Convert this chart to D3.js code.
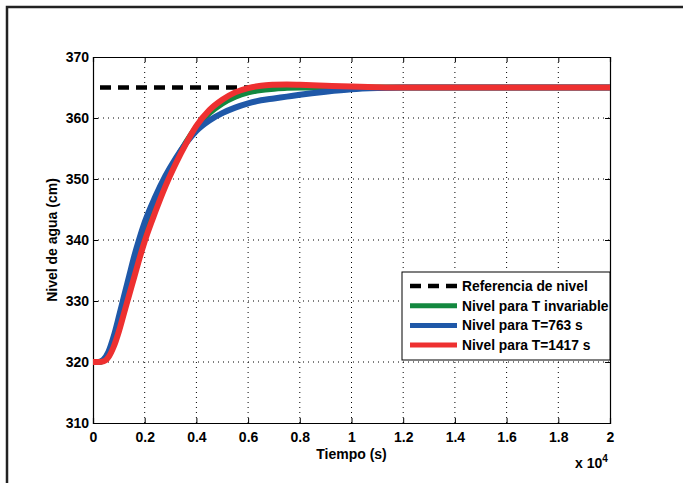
<!DOCTYPE html>
<html>
<head>
<meta charset="utf-8">
<script src="https://cdn.jsdelivr.net/npm/d3@7.9.0/dist/d3.min.js"></script>
<style>
  body { margin: 0; background: #fff; }
  svg { display: block; font-family: "Liberation Sans", Arial, sans-serif; font-weight: bold; }
</style>
</head>
<body>
<svg id="chart" width="683" height="483"></svg>
<script>
// Time samples (s)
const tiempo = [0, 200, 400, 600, 800, 1000, 1200, 1400, 1600, 1800, 2000, 2400, 2800, 3200, 3600, 4000, 4500, 5000, 5500, 6000, 6500, 7000, 7500, 8000, 9000, 10000, 11000, 12000, 14000, 16000, 18000, 20000];

// Level series (cm)
const nivelInvariable = [320, 320, 320.2, 321, 323, 325.8, 329, 332.2, 335.3, 338.2, 340.8, 345.5, 349.5, 353, 356, 358.5, 360.8, 362.4, 363.5, 364.2, 364.6, 364.8, 364.95, 365, 365, 365, 365, 365, 365, 365, 365, 365];
const nivelT763 = [320, 320, 320.4, 321.7, 324.2, 327.4, 330.8, 334.1, 337.4, 340.3, 342.9, 347, 350.5, 353.4, 355.9, 357.9, 359.6, 360.8, 361.7, 362.4, 362.9, 363.2, 363.5, 363.8, 364.3, 364.7, 364.9, 365, 365, 365, 365, 365];
const nivelT1417 = [320, 320, 320.1, 320.8, 322.5, 325, 328, 331, 334, 337, 339.8, 344.5, 348.8, 352.5, 355.8, 358.7, 361.3, 363, 364.2, 364.9, 365.3, 365.45, 365.5, 365.45, 365.3, 365.15, 365.05, 365, 365, 365, 365, 365];

const referencia = 365;
const xTicks = [0, 2000, 4000, 6000, 8000, 10000, 12000, 14000, 16000, 18000, 20000];
const yTicks = [310, 320, 330, 340, 350, 360, 370];

const leyenda = [
  { label: "Referencia de nivel", color: "#000000", dash: true },
  { label: "Nivel para T invariable", color: "#13883f" },
  { label: "Nivel para T=763 s", color: "#1f58a8" },
  { label: "Nivel para T=1417 s", color: "#ee3030" }
];

const svg = d3.select("#chart");

// outer frame
svg.append("path")
  .attr("d", "M7,483 V7 H683")
  .attr("fill", "none")
  .attr("stroke", "#222")
  .attr("stroke-width", 2.5);

const margin = { top: 57, left: 93, right: 73, bottom: 60 };
const width = 683 - margin.left - margin.right;
const height = 483 - margin.top - margin.bottom;

const g = svg.append("g").attr("transform", `translate(${margin.left},${margin.top})`);

const x = d3.scaleLinear().domain([0, 20000]).range([0, width]);
const y = d3.scaleLinear().domain([310, 370]).range([height, 0]);

// grid
g.append("g").selectAll("line")
  .data(xTicks.slice(1, -1))
  .join("line")
  .attr("x1", d => x(d)).attr("x2", d => x(d))
  .attr("y1", 0).attr("y2", height)
  .attr("stroke", "#000").attr("stroke-width", 1)
  .attr("stroke-dasharray", "1,4");

g.append("g").selectAll("line")
  .data(yTicks.slice(1, -1))
  .join("line")
  .attr("y1", d => y(d)).attr("y2", d => y(d))
  .attr("x1", 0).attr("x2", width)
  .attr("stroke", "#000").attr("stroke-width", 1)
  .attr("stroke-dasharray", "1,4");

// axes (ticks inward, MATLAB style)
const xAxis = g.append("g")
  .attr("transform", `translate(0,${height})`)
  .call(d3.axisBottom(x).tickValues(xTicks).tickSize(-5).tickPadding(9)
    .tickFormat(d => d3.format("")(+(d / 10000).toFixed(1))));
const xTop = g.append("g")
  .call(d3.axisTop(x).tickValues(xTicks).tickSize(-5).tickFormat(""));
const yAxis = g.append("g")
  .call(d3.axisLeft(y).tickValues(yTicks).tickSize(-5).tickPadding(4));
const yRight = g.append("g")
  .attr("transform", `translate(${width},0)`)
  .call(d3.axisRight(y).tickValues(yTicks).tickSize(-5).tickFormat(""));

[xAxis, xTop, yAxis, yRight].forEach(a => {
  a.selectAll("path").attr("stroke", "#000").attr("stroke-width", 1.2);
  a.selectAll("line").attr("stroke", "#000");
  a.selectAll("text")
    .attr("fill", "#000")
    .attr("font-size", "14px")
    .attr("font-weight", "bold")
    .attr("font-family", "Liberation Sans, Arial, sans-serif");
});

// series
const line = d3.line()
  .x((d, i) => x(tiempo[i]))
  .y(d => y(d))
  .curve(d3.curveMonotoneX);

g.append("line")
  .attr("x1", x(0)).attr("x2", x(20000))
  .attr("y1", y(referencia)).attr("y2", y(referencia))
  .attr("stroke", "#000")
  .attr("stroke-width", 4.5)
  .attr("stroke-dasharray", "11,7")
  .attr("stroke-dashoffset", 11);

const series = [nivelInvariable, nivelT763, nivelT1417];
series.forEach((s, i) => {
  g.append("path")
    .datum(s)
    .attr("d", line)
    .attr("fill", "none")
    .attr("stroke", leyenda[i + 1].color)
    .attr("stroke-width", 6)
    .attr("stroke-linejoin", "round");
});

// axis labels
svg.append("text")
  .attr("x", margin.left + width / 2)
  .attr("y", 459)
  .attr("text-anchor", "middle")
  .attr("font-size", "14px")
  .text("Tiempo (s)");

svg.append("text")
  .attr("transform", `translate(57,${margin.top + height / 2}) rotate(-90)`)
  .attr("text-anchor", "middle")
  .attr("font-size", "14px")
  .text("Nivel de agua (cm)");

const expo = svg.append("text")
  .attr("x", 575)
  .attr("y", 468)
  .attr("font-size", "14px");
expo.append("tspan").text("x 10");
expo.append("tspan").attr("dy", -6).attr("font-size", "10px").text("4");

// legend
const lg = g.append("g")
  .attr("transform", `translate(${x(0) + 309},${215})`);

lg.append("rect")
  .attr("x", 0).attr("y", 0)
  .attr("width", 208).attr("height", 88)
  .attr("fill", "#fff")
  .attr("stroke", "#000")
  .attr("stroke-width", 1);

const rows = lg.selectAll("g.row")
  .data(leyenda)
  .join("g")
  .attr("class", "row")
  .attr("transform", (d, i) => `translate(0,${14 + i * 19.7})`);

rows.append("line")
  .attr("x1", 8).attr("x2", 55)
  .attr("y1", 0).attr("y2", 0)
  .attr("stroke", d => d.color)
  .attr("stroke-width", d => d.dash ? 4.5 : 5)
  .attr("stroke-dasharray", d => d.dash ? "11,7" : null);

rows.append("text")
  .attr("x", 60)
  .attr("y", 0)
  .attr("dy", "0.35em")
  .attr("font-size", "13.8px")
  .text(d => d.label);
</script>
</body>
</html>
